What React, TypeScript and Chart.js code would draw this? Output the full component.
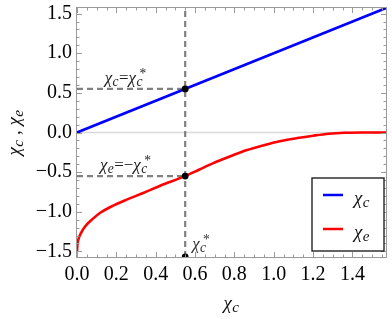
import React, { useEffect, useRef } from 'react';
import { Chart, registerables } from 'chart.js';

Chart.register(...registerables);

const HALF_PI = Math.PI / 2;

// axis ranges
const xRange = [0, HALF_PI];
const yRange = [-HALF_PI, HALF_PI];

// tick steps (labels / minor marks)
const xLabelStep = 0.2;
const yLabelStep = 0.5;
const xMinorStep = 0.05;
const yMinorStep = 0.1;

// series 1: χc
const chiCX = [0, HALF_PI];
const chiCY = [0, HALF_PI];

// series 2: χe
const chiEX = [0, 0.002, 0.007, 0.02, 0.04, 0.08, 0.12, 0.17, 0.25, 0.34, 0.42, 0.55, 0.62, 0.69, 0.78, 0.86, 0.95, 1.03, 1.12, 1.2, 1.28, 1.36, 1.45, HALF_PI];
const chiEY = [-1.5, -1.42, -1.35, -1.27, -1.19, -1.09, -1.01, -0.94, -0.85, -0.76, -0.675, -0.55, -0.47, -0.39, -0.3, -0.225, -0.16, -0.11, -0.07, -0.04, -0.015, -0.003, 0, 0];

// critical value χc*
const chiStar = 0.55;

const seriesLabels = [
  [{ t: 'χ', it: true }, { t: 'c', it: true, k: 'sub' }],
  [{ t: 'χ', it: true }, { t: 'e', it: true, k: 'sub' }],
];
const seriesColors = ['#0000ff', '#ff0000'];

const SERIF = "'Liberation Serif', 'Times New Roman', Times, serif";

type Seg = { t: string; it?: boolean; k?: 'sub' | 'sup'; sup?: string };

function segFont(s: Seg, size: number, small = false) {
  const sz = small ? size * 0.8 : size;
  return `${s.it ? 'italic ' : ''}${sz}px ${SERIF}`;
}

function richWidth(ctx: CanvasRenderingContext2D, segs: Seg[], size: number) {
  let w = 0;
  for (const s of segs) {
    ctx.font = segFont(s, size, !!s.k);
    let sw = ctx.measureText(s.t).width;
    if (s.sup) {
      ctx.font = segFont({ t: s.sup }, size, true);
      sw = Math.max(sw, ctx.measureText(s.sup).width + size * 0.18);
    }
    w += sw + (s.k ? size * 0.04 : 0);
  }
  return w;
}

function drawRich(ctx: CanvasRenderingContext2D, segs: Seg[], x: number, y: number, size: number, align: 'left' | 'center', color = '#111') {
  const w = richWidth(ctx, segs, size);
  let cx = align === 'center' ? x - w / 2 : x;
  ctx.save();
  ctx.fillStyle = color;
  ctx.textAlign = 'left';
  ctx.textBaseline = 'alphabetic';
  for (const s of segs) {
    ctx.font = segFont(s, size, !!s.k);
    const dy = s.k === 'sub' ? size * 0.16 : s.k === 'sup' ? -size * 0.42 : 0;
    const sx = cx + (s.k ? size * 0.02 : 0);
    ctx.fillText(s.t, sx, y + dy);
    let sw = ctx.measureText(s.t).width;
    if (s.sup) {
      ctx.font = segFont({ t: s.sup }, size, true);
      ctx.fillText(s.sup, sx + size * 0.18, y - size * 0.3);
      sw = Math.max(sw, ctx.measureText(s.sup).width + size * 0.18);
    }
    cx += sw + (s.k ? size * 0.04 : 0);
  }
  ctx.restore();
}

function fmt(v: number) {
  const r = Math.round(v * 10) / 10;
  if (Math.abs(r) < 1e-9) return '0.0';
  return (r < 0 ? '\u2212' : '') + Math.abs(r).toFixed(1);
}

const framePlugin = {
  id: 'framePlugin',
  beforeDatasetsDraw(chart: any) {
    const { ctx, chartArea, scales } = chart;
    const y0 = scales.y.getPixelForValue(0);
    ctx.save();
    ctx.strokeStyle = '#d9d9d9';
    ctx.lineWidth = 1.3;
    ctx.beginPath();
    ctx.moveTo(chartArea.left, y0);
    ctx.lineTo(chartArea.right, y0);
    ctx.stroke();
    ctx.restore();
  },
  afterDatasetsDraw(chart: any) {
    const { ctx, chartArea, scales } = chart;
    const { left, right, top, bottom } = chartArea;
    ctx.save();
    ctx.strokeStyle = '#9a9a9a';
    ctx.lineWidth = 1;
    ctx.strokeRect(left - 0.5, top - 0.5, right - left + 1, bottom - top + 1);
    ctx.beginPath();
    const nx = Math.floor((xRange[1] - xRange[0]) / xMinorStep + 1e-6);
    for (let i = 0; i <= nx; i++) {
      const v = xRange[0] + i * xMinorStep;
      const major = Math.abs(v / xLabelStep - Math.round(v / xLabelStep)) < 1e-6;
      const len = major ? 5 : 2.5;
      const px = Math.round(scales.x.getPixelForValue(v)) + 0.5;
      ctx.moveTo(px, bottom);
      ctx.lineTo(px, bottom - len);
      ctx.moveTo(px, top);
      ctx.lineTo(px, top + len);
    }
    const ny0 = Math.ceil(yRange[0] / yMinorStep - 1e-6);
    const ny1 = Math.floor(yRange[1] / yMinorStep + 1e-6);
    for (let i = ny0; i <= ny1; i++) {
      const v = i * yMinorStep;
      const major = Math.abs(v / yLabelStep - Math.round(v / yLabelStep)) < 1e-6;
      const len = major ? 5 : 2.5;
      const py = Math.round(scales.y.getPixelForValue(v)) + 0.5;
      ctx.moveTo(left, py);
      ctx.lineTo(left + len, py);
      ctx.moveTo(right, py);
      ctx.lineTo(right - len, py);
    }
    ctx.stroke();
    ctx.restore();

    // annotations
    const xs = scales.x.getPixelForValue(chiStar);
    const yTop = scales.y.getPixelForValue(chiStar);
    const yBot = scales.y.getPixelForValue(-chiStar);
    const xMid = scales.x.getPixelForValue(chiStar * 0.45);
    drawRich(ctx, [
      { t: 'χ', it: true }, { t: 'c', it: true, k: 'sub' }, { t: '=' },
      { t: 'χ', it: true }, { t: 'c', it: true, k: 'sub', sup: '*' },
    ], xMid, yTop - 6, 17, 'center', '#222');
    drawRich(ctx, [
      { t: 'χ', it: true }, { t: 'e', it: true, k: 'sub' }, { t: '=\u2212' },
      { t: 'χ', it: true }, { t: 'c', it: true, k: 'sub', sup: '*' },
    ], xMid, yBot - 6, 17, 'center', '#222');
    drawRich(ctx, [
      { t: 'χ', it: true }, { t: 'c', it: true, k: 'sub', sup: '*' },
    ], xs + 7, bottom - 8, 17, 'left', '#333');

    // legend
    const lw = 72, lh = 73;
    const lx = right - 2 - lw, ly = bottom - 6 - lh;
    ctx.save();
    ctx.fillStyle = '#fff';
    ctx.fillRect(lx, ly, lw, lh);
    ctx.strokeStyle = '#111';
    ctx.lineWidth = 1.3;
    ctx.strokeRect(lx, ly, lw, lh);
    seriesLabels.forEach((segs, i) => {
      const cy = ly + 17 + i * 34;
      ctx.strokeStyle = seriesColors[i];
      ctx.lineWidth = 2.5;
      ctx.beginPath();
      ctx.moveTo(lx + 11, cy);
      ctx.lineTo(lx + 31, cy);
      ctx.stroke();
      drawRich(ctx, segs as Seg[], lx + 42, cy + 9, 19, 'left', '#111');
    });
    ctx.restore();

    // axis titles
    const cxA = (left + right) / 2;
    drawRich(ctx, seriesLabels[0] as Seg[], cxA, 309, 19, 'center', '#111');
    ctx.save();
    ctx.translate(20, (top + bottom) / 2);
    ctx.rotate(-Math.PI / 2);
    drawRich(ctx, [
      { t: 'χ', it: true }, { t: 'c', it: true, k: 'sub' }, { t: ' , ' },
      { t: 'χ', it: true }, { t: 'e', it: true, k: 'sub' },
    ], 0, 0, 19, 'center', '#111');
    ctx.restore();
  },
};

export default function App() {
  const ref = useRef<HTMLCanvasElement>(null);
  useEffect(() => {
    Chart.defaults.font.family = SERIF;
    const pts = (xs: number[], ys: number[]) => xs.map((x, i) => ({ x, y: ys[i] }));
    const dashed = { borderColor: '#808080', borderWidth: 2.2, borderDash: [6, 4], pointRadius: 0, showLine: true, order: 2 };
    const chart = new Chart(ref.current!, {
      type: 'scatter',
      data: {
        datasets: [
          {
            label: 'dots',
            data: [
              { x: chiStar, y: chiStar },
              { x: chiStar, y: -chiStar },
              { x: chiStar, y: yRange[0] },
            ],
            pointRadius: 3.4,
            pointBackgroundColor: '#000',
            pointBorderColor: '#000',
            pointBorderWidth: 0,
            showLine: false,
            clip: 0,
            order: 0,
          } as any,
          {
            label: 'χc',
            data: pts(chiCX, chiCY),
            borderColor: seriesColors[0],
            borderWidth: 2.6,
            pointRadius: 0,
            showLine: true,
            order: 1,
          },
          {
            label: 'χe',
            data: pts(chiEX, chiEY),
            borderColor: seriesColors[1],
            borderWidth: 2.6,
            pointRadius: 0,
            showLine: true,
            cubicInterpolationMode: 'monotone',
            order: 1,
          } as any,
          { label: 'v', data: [{ x: chiStar, y: yRange[0] }, { x: chiStar, y: yRange[1] }], ...dashed } as any,
          { label: 'h1', data: [{ x: xRange[0], y: chiStar }, { x: chiStar, y: chiStar }], ...dashed } as any,
          { label: 'h2', data: [{ x: xRange[0], y: -chiStar }, { x: chiStar, y: -chiStar }], ...dashed } as any,
        ],
      },
      options: {
        responsive: false,
        devicePixelRatio: 1,
        animation: false,
        layout: { padding: { top: 8, right: 6, left: 0, bottom: 0 } },
        plugins: { legend: { display: false }, tooltip: { enabled: false } },
        scales: {
          x: {
            type: 'linear',
            min: xRange[0],
            max: xRange[1],
            grid: { display: false, drawTicks: false },
            border: { display: false },
            ticks: {
              stepSize: xLabelStep,
              includeBounds: false,
              autoSkip: false,
              maxRotation: 0,
              padding: 6,
              color: '#000',
              font: { family: SERIF, size: 20 },
              callback: (v: any) => fmt(Number(v)),
            },
            afterFit: (s: any) => {
              s.height = 62;
              s.paddingLeft = 0; s.paddingRight = 0; s.paddingTop = 0; s.paddingBottom = 0;
            },
          } as any,
          y: {
            type: 'linear',
            min: yRange[0],
            max: yRange[1],
            grid: { display: false, drawTicks: false },
            border: { display: false },
            ticks: {
              stepSize: yLabelStep,
              includeBounds: false,
              autoSkip: false,
              padding: 5,
              color: '#000',
              font: { family: SERIF, size: 20 },
              callback: (v: any) => fmt(Number(v)),
            },
            afterFit: (s: any) => {
              s.width = 77;
              s.paddingLeft = 0; s.paddingRight = 0; s.paddingTop = 0; s.paddingBottom = 0;
            },
          } as any,
        },
      },
      plugins: [framePlugin],
    });
    let alive = true;
    const fonts = (document as any).fonts;
    if (fonts && fonts.load) {
      Promise.all([
        fonts.load(`20px ${SERIF}`),
        fonts.load(`italic 20px ${SERIF}`),
      ]).then(() => { if (alive) chart.update(); }).catch(() => {});
    }
    return () => { alive = false; chart.destroy(); };
  }, []);
  return (
    <div style={{ position: 'fixed', left: 0, top: 0, width: 392, height: 319, background: '#fff' }}>
      <canvas ref={ref} width={392} height={319} style={{ display: 'block', width: 392, height: 319 }} />
    </div>
  );
}
